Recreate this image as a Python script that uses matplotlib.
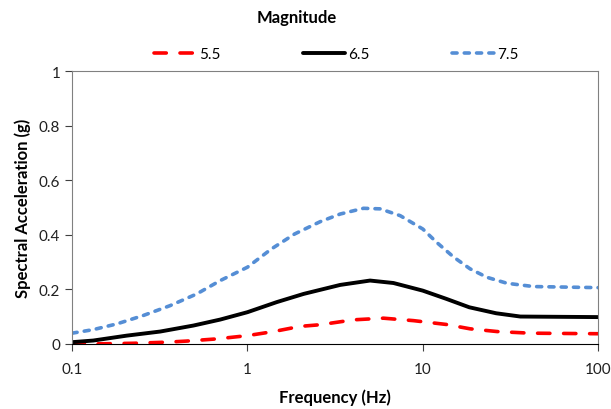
import numpy as np
import matplotlib.pyplot as plt

plt.rcParams['font.family'] = ['Lato', 'DejaVu Sans']

# frecuencias (Hz) y aceleración espectral (g)
f_55 = [0.1, 0.145, 0.224, 0.347, 0.45, 0.668, 1.0, 1.41, 2.0, 2.6, 4.03, 5.97, 8.85, 13.6, 18.6, 26.5, 41, 100]
sa_55 = [0.0, 0.0, 0.002, 0.006, 0.010, 0.018, 0.030, 0.045, 0.064, 0.070, 0.088, 0.094, 0.085, 0.071, 0.055, 0.045, 0.039, 0.037]

f_65 = [0.1, 0.132, 0.205, 0.318, 0.492, 0.70, 1.0, 1.47, 2.09, 2.6, 3.38, 5.0, 6.8, 10, 13.6, 18.4, 26.2, 36, 100]
sa_65 = [0.006, 0.012, 0.030, 0.045, 0.067, 0.089, 0.116, 0.153, 0.183, 0.198, 0.216, 0.232, 0.223, 0.195, 0.165, 0.134, 0.112, 0.100, 0.098]

f_75 = [0.1, 0.132, 0.18, 0.255, 0.362, 0.514, 0.70, 1.0, 1.37, 1.86, 2.6, 3.38, 4.59, 5.71, 7.43, 10, 12.0, 15.0, 18.6, 23.2, 30.2, 42.8, 100]
sa_75 = [0.039, 0.052, 0.073, 0.104, 0.140, 0.183, 0.232, 0.281, 0.348, 0.403, 0.448, 0.476, 0.497, 0.495, 0.470, 0.421, 0.372, 0.318, 0.275, 0.244, 0.222, 0.210, 0.206]

labels = ['5.5', '6.5', '7.5']

fig = plt.figure(figsize=(6.11, 4.10), dpi=100)
ax = fig.add_axes([0.118, 0.159, 0.861, 0.665])

ax.plot(f_55, sa_55, color='#ff0000', lw=2.6, dashes=(3.4, 3.8), dash_capstyle='round', label=labels[0])
ax.plot(f_65, sa_65, color='black', lw=2.8, solid_capstyle='round', label=labels[1])
ax.plot(f_75, sa_75, color='#558ed5', lw=2.6, dashes=(1.4, 2.0), dash_capstyle='round', label=labels[2])

ax.set_xscale('log')
ax.set_xlim(0.1, 100)
ax.set_ylim(0, 1)
ax.set_xticks([0.1, 1, 10, 100])
ax.set_xticklabels(['0.1', '1', '10', '100'])
ax.set_yticks([0, 0.2, 0.4, 0.6, 0.8, 1])
ax.set_yticklabels(['0', '0.2', '0.4', '0.6', '0.8', '1'])
ax.minorticks_off()
ax.tick_params(labelsize=11, length=5, width=0.8, color='#404040', labelcolor='#202020')
ax.tick_params(axis='x', pad=8)
for s in ['top', 'right', 'left']:
    ax.spines[s].set_color('#808080')
    ax.spines[s].set_linewidth(0.8)
ax.spines['bottom'].set_color('black')

ax.set_xlabel('Frequency (Hz)', fontsize=12, fontweight='bold', labelpad=9)
ax.set_ylabel('Spectral Acceleration (g)', fontsize=12, fontweight='bold', labelpad=6)

fig.text(297 / 611, 1 - 18 / 410, 'Magnitude', ha='center', va='center', fontsize=12, fontweight='bold')
leg = fig.legend(loc='center', bbox_to_anchor=(336 / 611, 1 - 55 / 410), ncol=3, frameon=False,
                 fontsize=11, handlelength=2.75, handletextpad=0.2, columnspacing=5.4,
                 borderpad=0, borderaxespad=0)

fig.savefig('out.png', dpi=100)
